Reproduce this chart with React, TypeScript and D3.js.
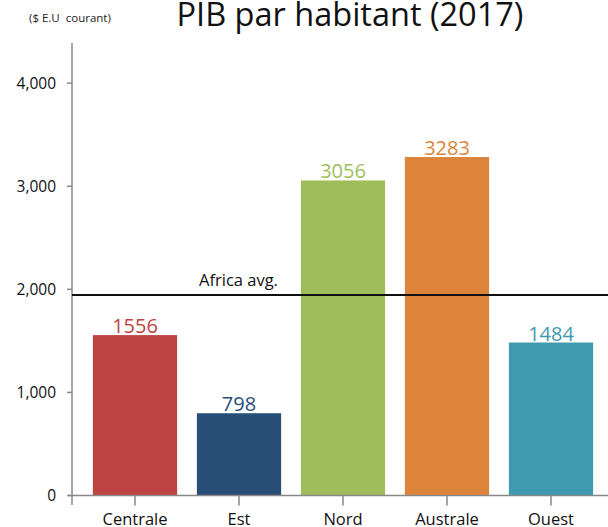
import React, { useEffect, useRef } from 'react';
import * as d3 from 'd3';

const regions = ['Centrale', 'Est', 'Nord', 'Australe', 'Ouest'];
const gdp = [1556, 798, 3056, 3283, 1484];
const colors = ['#BE4342', '#284E78', '#A0BD5B', '#DC843A', '#3F9AB0'];
const yTicks = [0, 1000, 2000, 3000, 4000];
const africaAvg = 1945;

const W = 608;
const H = 527;
const FONT = '"Open Sans", "Noto Sans", sans-serif';

export const App: React.FC = () => {
  const svgRef = useRef<SVGSVGElement | null>(null);

  useEffect(() => {
    const svg = d3.select(svgRef.current);
    svg.selectAll('*').remove();

    const x = d3.scaleBand().domain(regions).range([83, 603]).paddingInner(0.19).paddingOuter(0.095);
    const y = d3.scaleLinear().domain([0, 4400]).range([495.5, 41.9]);

    // title
    svg.append('text')
      .attr('x', 350).attr('y', 26)
      .attr('text-anchor', 'middle')
      .attr('font-family', FONT).attr('font-size', 32.5)
      .attr('fill', '#111')
      .text('PIB par habitant (2017)');

    svg.append('text')
      .attr('x', 29).attr('y', 22)
      .attr('font-family', FONT).attr('font-size', 11.5)
      .attr('fill', '#222')
      .style('white-space', 'pre')
      .text('($ E.U  courant)');

    // bars
    const data = regions.map((r, i) => ({ r, v: gdp[i], c: colors[i] }));
    svg.append('g').selectAll('rect').data(data).join('rect')
      .attr('x', d => x(d.r)!)
      .attr('width', x.bandwidth())
      .attr('y', d => y(d.v))
      .attr('height', d => y(0) - y(d.v))
      .attr('fill', d => d.c);

    svg.append('g').selectAll('text').data(data).join('text')
      .attr('x', d => x(d.r)! + x.bandwidth() / 2)
      .attr('y', d => y(d.v) - 2)
      .attr('text-anchor', 'middle')
      .attr('font-family', FONT).attr('font-size', 20)
      .attr('fill', d => d.c)
      .text(d => `${d.v}`);

    // y axis
    const axisColor = '#888';
    svg.append('line')
      .attr('x1', 72).attr('x2', 72).attr('y1', 43).attr('y2', 505)
      .attr('stroke', axisColor).attr('stroke-width', 1.5);
    const yt = svg.append('g').selectAll('g').data(yTicks).join('g')
      .attr('transform', d => `translate(0,${y(d)})`);
    yt.append('line').attr('x1', 67).attr('x2', 72).attr('stroke', axisColor).attr('stroke-width', 1.5);
    yt.append('text')
      .attr('x', 56).attr('dy', '0.35em')
      .attr('text-anchor', 'end')
      .attr('font-family', FONT).attr('font-size', 15.5)
      .attr('fill', '#111')
      .text(d => d3.format(',')(d));

    // x axis
    svg.append('line')
      .attr('x1', 68).attr('x2', W).attr('y1', y(0)).attr('y2', y(0))
      .attr('stroke', axisColor).attr('stroke-width', 1.5);
    const xt = svg.append('g').selectAll('g').data(regions).join('g')
      .attr('transform', d => `translate(${x(d)! + x.bandwidth() / 2},0)`);
    xt.append('line').attr('y1', y(0)).attr('y2', y(0) + 10).attr('stroke', axisColor).attr('stroke-width', 1.5);
    xt.append('text')
      .attr('y', 525)
      .attr('text-anchor', 'middle')
      .attr('font-family', FONT).attr('font-size', 16.5)
      .attr('fill', '#111')
      .text(d => d);

    // Africa average
    svg.append('line')
      .attr('x1', 72).attr('x2', W).attr('y1', y(africaAvg)).attr('y2', y(africaAvg))
      .attr('stroke', '#111').attr('stroke-width', 2);
    svg.append('text')
      .attr('x', 199).attr('y', y(africaAvg) - 9)
      .attr('font-family', FONT).attr('font-size', 16.5)
      .attr('fill', '#111')
      .text('Africa avg.');
  }, []);

  return (
    <svg ref={svgRef} width={W} height={H} style={{ position: 'absolute', left: 0, top: 0 }} />
  );
};

export default App;
